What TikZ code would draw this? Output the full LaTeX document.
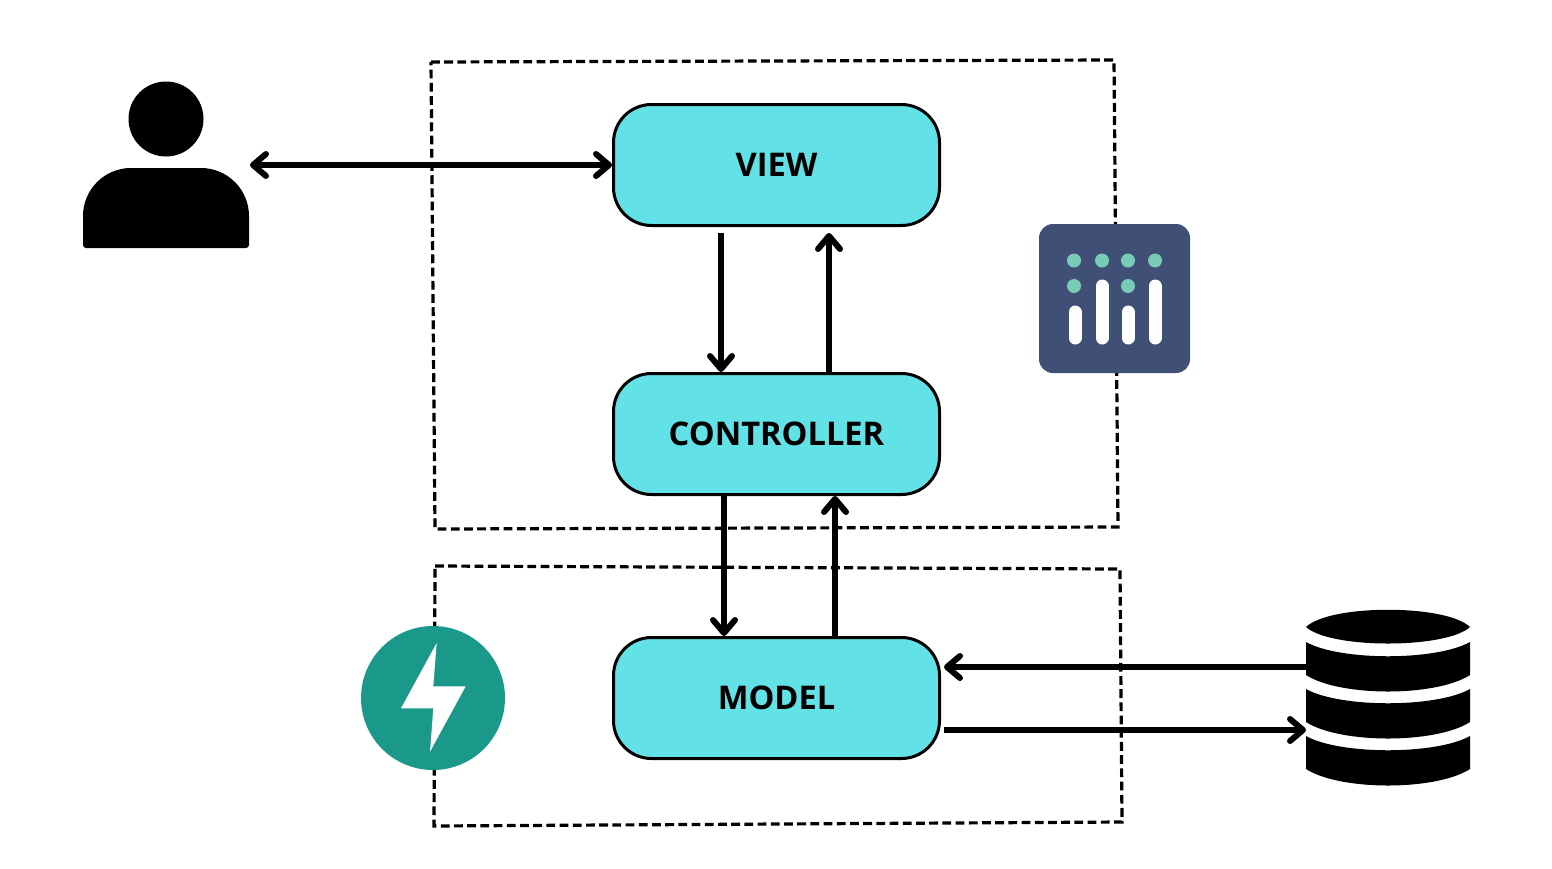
\documentclass[tikz,border=0pt]{standalone}
\usepackage{fontspec}
\setmainfont{Open Sans}
\usetikzlibrary{arrows.meta}
\definecolor{boxcyan}{HTML}{62E1E6}
\definecolor{plotblue}{HTML}{3F4F75}
\definecolor{plotgreen}{HTML}{78CCB6}
\definecolor{apigreen}{HTML}{1A998A}
\tikzset{
  layerbox/.style={draw=black,fill=boxcyan,line width=1.5pt,rounded corners=19pt,
    minimum width=163pt,minimum height=60.5pt,font=\fontsize{16.3}{18}\selectfont\bfseries},
  flow/.style={line width=3pt,draw=black},
  flowtip/.style={-{Straight Barb[round,length=6.5pt,width=11pt]}},
  frame/.style={draw=black,line width=1.6pt,dash pattern=on 4.4pt off 2.2pt},
}
\begin{document}
\begin{tikzpicture}[x=0.5pt,y=-0.5pt]
  \useasboundingbox (0,0) rectangle (1552,868);
  % frames
  \draw[frame] (431,62)--(1114,60)--(1118,527)--(435,529)--cycle;
  \draw[frame] (435,566)--(1120,569)--(1122,822)--(434,826)--cycle;
  % layers
  \draw (776.5,165) node[layerbox] (view) {VIEW};
  \draw (776.5,434) node[layerbox] (controller) {CONTROLLER};
  \draw (776.5,698) node[layerbox] (model) {MODEL};
  % user
  \fill (166,119) circle (37.5);
  \fill (83,248) [rounded corners=1.5pt] -- (83,225) [rounded corners=24pt] -- (83,168) -- (249,168) [rounded corners=1.5pt] -- (249,225) -- (249,248) -- cycle;
  \coordinate (user) at (250,165);
  % database
  \fill (1306,627) .. controls (1330,604) and (1446,604) .. (1470,627) .. controls (1446,649) and (1330,649) .. (1306,627) -- cycle;
  \foreach \y in {642,689,736}
    \fill (1306,\y) .. controls (1340,\y+19) and (1436,\y+19) .. (1470,\y) -- (1470,\y+33)
      .. controls (1436,\y+55) and (1340,\y+55) .. (1306,\y+33) -- cycle;
  \coordinate (dbout) at (1306,667);
  \coordinate (dbin) at (1306,730);
  % plotly
  \fill[plotblue] (1039,224) [rounded corners=7pt] rectangle (1190,373);
  \foreach \x in {1074,1102,1128,1155}
    \fill[plotgreen] (\x,260.5) circle (7);
  \foreach \x in {1074,1128}
    \fill[plotgreen] (\x,286) circle (7);
  \foreach \x/\t in {1075/312,1102/286,1128/312,1155/286}
    \draw[white,line width=6.5pt,line cap=round] (\x,\t)--(\x,338);
  % fastapi
  \fill[apigreen] (433,698) circle (72);
  \fill[white] (436.7,643)--(433.3,686.3)--(465.7,686.3)--(430,751.7)--(433.3,708.3)--(401,708.3)--cycle;
  % arrows
  \draw[flow,{Straight Barb[round,length=6.5pt,width=11pt]}-{Straight Barb[round,length=6.5pt,width=11pt]}] (user)--(view.west);
  \draw[flow,flowtip] ([xshift=-27.75pt,yshift=-3pt]view.south)--([xshift=-27.75pt]controller.north);
  \draw[flow,flowtip] ([xshift=26.25pt]controller.north)--([xshift=26.25pt,yshift=-3pt]view.south);
  \draw[flow,flowtip] ([xshift=-26.25pt]controller.south)--([xshift=-26.25pt]model.north);
  \draw[flow,flowtip] ([xshift=29.25pt]model.north)--([xshift=29.25pt]controller.south);
  \draw[flow,flowtip] (dbout)--([xshift=1.5pt]dbout -| model.east);
  \draw[flow,flowtip] ([xshift=1.5pt]dbin -| model.east)--(dbin);
\end{tikzpicture}
\end{document}
